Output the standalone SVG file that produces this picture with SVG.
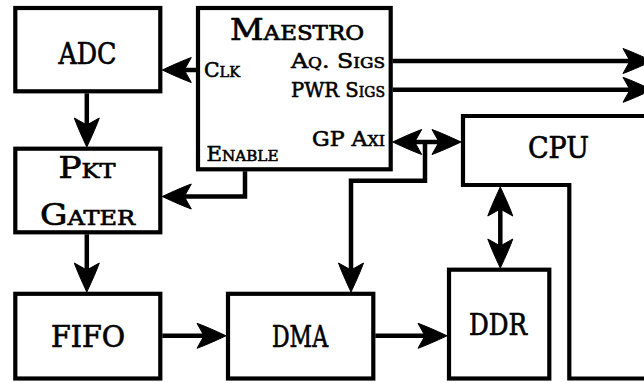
<svg xmlns="http://www.w3.org/2000/svg" width="644" height="383" viewBox="0 0 644 383">
<style>
.box{fill:#fff;stroke:#000;stroke-width:4.2}
.ln{fill:none;stroke:#000;stroke-width:4.5;stroke-linejoin:miter}
.big{font-family:"DejaVu Serif","Liberation Serif",serif;font-size:30px;fill:#000;stroke:#000;stroke-width:0.7}
.sm{font-family:"DejaVu Serif","Liberation Serif",serif;font-size:21px;fill:#000;stroke:#000;stroke-width:0.6}
.sc{font-variant:small-caps}
</style>
<defs>
<marker id="ah" refX="8" refY="13" markerWidth="32" markerHeight="26" markerUnits="userSpaceOnUse" orient="auto-start-reverse" overflow="visible">
<path d="M29,13 Q11,4.5 0,0.5 L7,13 L0,25.5 Q11,21.5 29,13 Z" fill="#000" stroke="#000" stroke-width="1" stroke-linejoin="miter"/>
</marker>
</defs>
<rect width="644" height="383" fill="#fff"/>
<g id="cpu">
<path class="box" d="M463,116 L670,116 L670,378.5 L569.3,378.5 L569.3,185 L463,185 Z"/>
<text class="big" x="558.5" y="158" text-anchor="middle" textLength="61" lengthAdjust="spacingAndGlyphs">CPU</text>
</g>
<g id="adc">
<rect class="box" x="15.3" y="8" width="145" height="83.3"/>
<text class="big" x="87.5" y="63.5" text-anchor="middle" textLength="58" lengthAdjust="spacingAndGlyphs">ADC</text>
</g>
<g id="maestro">
<rect class="box" x="198" y="8" width="192.7" height="161.3"/>
<text class="big sc" x="297" y="40" text-anchor="middle" textLength="134" lengthAdjust="spacingAndGlyphs">Maestro</text>
<text class="sm sc" x="204" y="77" textLength="36" lengthAdjust="spacingAndGlyphs">Clk</text>
<text class="sm sc" x="385" y="68" text-anchor="end" textLength="94" lengthAdjust="spacingAndGlyphs">Aq. Sigs</text>
<text class="sm sc" x="385" y="97" text-anchor="end" textLength="94" lengthAdjust="spacingAndGlyphs">PWR Sigs</text>
<text class="sm sc" x="385" y="146" text-anchor="end" textLength="73" lengthAdjust="spacingAndGlyphs">GP Axi</text>
<text class="sm sc" x="206.5" y="161" textLength="72" lengthAdjust="spacingAndGlyphs">Enable</text>
</g>
<g id="pktgater">
<rect class="box" x="15.3" y="148.7" width="145" height="83.6"/>
<text class="big sc" x="87" y="178" text-anchor="middle" textLength="57" lengthAdjust="spacingAndGlyphs">Pkt</text>
<text class="big sc" x="87.5" y="225" text-anchor="middle" textLength="95" lengthAdjust="spacingAndGlyphs">Gater</text>
</g>
<g id="fifo">
<rect class="box" x="15.3" y="293.8" width="145" height="84.7"/>
<text class="big" x="88" y="347" text-anchor="middle" textLength="74" lengthAdjust="spacingAndGlyphs">FIFO</text>
</g>
<g id="dma">
<rect class="box" x="228" y="293.8" width="145.3" height="84.7"/>
<text class="big" x="300" y="347.3" text-anchor="middle" textLength="56" lengthAdjust="spacingAndGlyphs">DMA</text>
</g>
<g id="ddr">
<rect class="box" x="449" y="269.7" width="100.3" height="108.8"/>
<text class="big" x="498" y="335" text-anchor="middle" textLength="58" lengthAdjust="spacingAndGlyphs">DDR</text>
</g>
<g id="connectors">
<path class="ln" d="M196,70 L183.3,70" marker-end="url(#ah)"/>
<path class="ln" d="M86.8,93.3 L86.8,126" marker-end="url(#ah)"/>
<path class="ln" d="M245,171.3 L245,196.5 L183.3,196.5" marker-end="url(#ah)"/>
<path class="ln" d="M86.8,234.3 L86.8,271" marker-end="url(#ah)"/>
<path class="ln" d="M162.3,335.8 L205,335.8" marker-end="url(#ah)"/>
<path class="ln" d="M375.3,335.8 L426,335.8" marker-end="url(#ah)"/>
<path class="ln" d="M392.7,61 L631,61" marker-end="url(#ah)"/>
<path class="ln" d="M392.7,89.8 L631,89.8" marker-end="url(#ah)"/>
<path class="ln" d="M413.7,142 L440,142" marker-start="url(#ah)" marker-end="url(#ah)"/>
<path class="ln" d="M425,142 L425,180.8 L351,180.8 L351,271" marker-end="url(#ah)"/>
<path class="ln" d="M500.3,208 L500.3,247" marker-start="url(#ah)" marker-end="url(#ah)"/>
</g>
</svg>
